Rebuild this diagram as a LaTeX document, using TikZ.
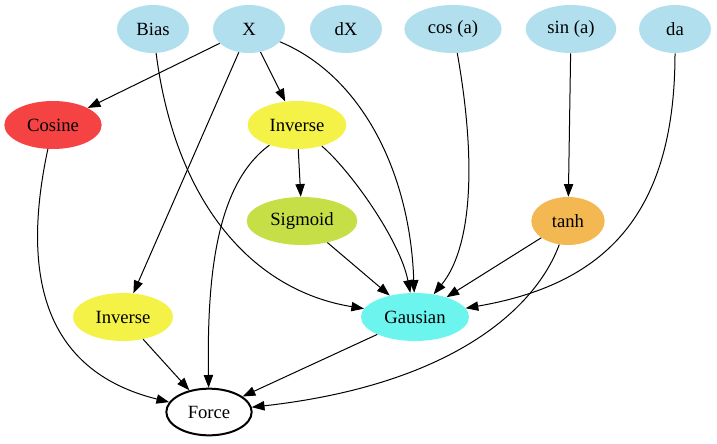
\documentclass[tikz,border=0pt]{standalone}
\usepackage{fontspec}
\setmainfont{Liberation Serif}
\usetikzlibrary{shapes.geometric,arrows.meta}
\definecolor{inblue}{HTML}{B2DFEE}
\definecolor{cosred}{HTML}{F54343}
\definecolor{invyellow}{HTML}{F4F246}
\definecolor{siggreen}{HTML}{C6DF46}
\definecolor{tanhorange}{HTML}{F4B852}
\definecolor{gauscyan}{HTML}{6CF4EE}
\tikzset{
  op/.style={ellipse, inner sep=0pt, minimum height=36pt, font=\fontsize{14pt}{16pt}\selectfont},
  inp/.style={op, fill=inblue},
  edge/.style={line width=0.75pt, -{Triangle[length=9.5pt,width=7pt]}},
}
\begin{document}
\begin{tikzpicture}[x=0.75pt, y=-0.75pt]
\useasboundingbox (0,0) rectangle (717,443);
% inputs
\node[inp, minimum width=54pt] (bias) at (153,29) {Bias};
\node[inp, minimum width=54pt] (x)    at (249,29) {X};
\node[inp, minimum width=54pt] (dx)   at (346,29) {dX};
\node[inp, minimum width=73pt] (cosa) at (453,29) {cos (a)};
\node[inp, minimum width=68pt] (sina) at (571,29) {sin (a)};
\node[inp, minimum width=54pt] (da)   at (675,29) {da};
% operations
\node[op, fill=cosred, minimum width=73pt]     (cosine) at (53,125)  {Cosine};
\node[op, fill=invyellow, minimum width=74pt]  (invA)   at (297,125) {Inverse};
\node[op, fill=siggreen, minimum width=83pt]   (sig)    at (302,221) {Sigmoid};
\node[op, fill=tanhorange, minimum width=55pt] (tanh)   at (568,221) {tanh};
\node[op, fill=invyellow, minimum width=75pt]  (invB)   at (123,317) {Inverse};
\node[op, fill=gauscyan, minimum width=81pt]   (gaus)   at (415,317) {Gausian};
\node[op, draw, line width=1.5pt, fill=white, minimum width=64pt, minimum height=35pt] (force) at (209,412) {Force};
% connectors
\draw[edge] (x) -- (cosine);
\draw[edge] (x) -- (invA);
\draw[edge] (x) -- (invB);
\draw[edge] (x) .. controls (360,75) and (410,170) .. (gaus);
\draw[edge] (bias) .. controls (175,200) and (250,290) .. (gaus);
\draw[edge] (invA) -- (sig);
\draw[edge] (invA) .. controls (350,170) and (400,240) .. (gaus);
\draw[edge] (invA) .. controls (215,185) and (207,280) .. (force);
\draw[edge] (sig) -- (gaus);
\draw[edge] (cosa) .. controls (478,170) and (470,250) .. (gaus);
\draw[edge] (sina) -- (tanh);
\draw[edge] (tanh) -- (gaus);
\draw[edge] (da) .. controls (675,220) and (600,285) .. (gaus);
\draw[edge] (tanh) .. controls (535,310) and (450,385) .. (force);
\draw[edge] (cosine) .. controls (22,270) and (40,370) .. (force);
\draw[edge] (invB) -- (force);
\draw[edge] (gaus) -- (force);
\end{tikzpicture}
\end{document}
